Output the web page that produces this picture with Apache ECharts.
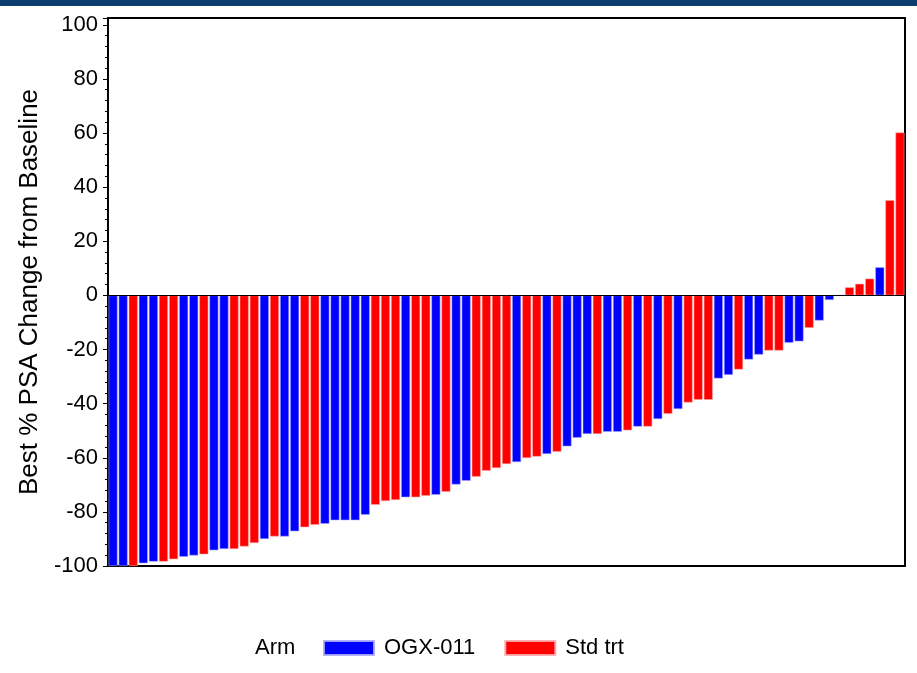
<!DOCTYPE html>
<html>
<head>
<meta charset="utf-8">
<title>Best % PSA Change from Baseline</title>
<script src="https://cdn.jsdelivr.net/npm/echarts@6/dist/echarts.min.js"></script>
<style>
  html, body { margin: 0; padding: 0; background: #fff; }
  #chart { width: 917px; height: 673px; }
</style>
</head>
<body>
<div id="chart"></div>
<script>
// Patients ordered by best PSA change (waterfall)
const patients = Array.from({ length: 79 }, (_, i) => 'P' + (i + 1));

// Treatment arm of each patient: 'O' = OGX-011, 'S' = Std trt
const arms = [
  'O','O','S','O','O','S','S','O','O','S',
  'O','O','S','S','S','O','S','O','O','S',
  'S','O','O','O','O','O','S','S','S','O',
  'S','S','O','S','O','O','S','S','S','S',
  'O','S','S','O','S','O','O','O','S','O',
  'O','S','O','S','O','S','O','S','S','S',
  'O','O','S','O','O','S','S','O','O','S',
  'O','O','O','S','S','S','O','S','S'
];

// Best % PSA change from baseline per patient
const psaChange = [
  -100, -100, -100, -99.0, -98.4, -98.4, -97.5, -96.6, -96.1, -95.7,
  -94.2, -93.7, -93.7, -92.8, -91.5, -90.0, -89.1, -89.1, -87.2, -85.7,
  -84.8, -84.4, -83.1, -83.1, -83.1, -81.1, -77.4, -76.0, -75.6, -74.6,
  -74.6, -74.1, -73.7, -72.6, -69.9, -68.5, -67.0, -64.8, -63.8, -62.3,
  -61.6, -60.1, -59.6, -58.6, -57.8, -55.8, -52.6, -51.2, -51.2, -50.4,
  -50.4, -49.9, -48.5, -48.5, -45.7, -43.8, -42.0, -39.6, -38.6, -38.6,
  -30.7, -29.4, -27.4, -23.7, -21.9, -20.4, -20.4, -17.5, -17.0, -12.0,
  -9.3, -1.7, 0, 3.0, 4.3, 6.2, 10.4, 35.2, 60.2
];

const yTicks = [-100, -80, -60, -40, -20, 0, 20, 40, 60, 80, 100];

const armNames = { O: 'OGX-011', S: 'Std trt' };
const armColors = { O: '#0000ff', S: '#ff0000' };

const FONT = '"Liberation Sans", Arial, sans-serif';

function seriesFor(code) {
  return {
    name: armNames[code],
    type: 'bar',
    stack: 'arm',
    barWidth: 9,
    itemStyle: {
      color: armColors[code],
      borderColor: code === 'O' ? 'rgba(170,170,255,0.9)' : 'rgba(255,170,170,0.9)',
      borderWidth: 0.6
    },
    data: psaChange.map((v, i) => (arms[i] === code ? v : '-'))
  };
}

const series = [seriesFor('O'), seriesFor('S')];
series[0].markLine = {
  silent: true,
  symbol: 'none',
  label: { show: false },
  lineStyle: { color: '#000', width: 1, type: 'solid' },
  data: [{ yAxis: 0 }]
};

const chart = echarts.init(document.getElementById('chart'), null, { renderer: 'canvas' });

chart.setOption({
  animation: false,
  backgroundColor: '#fff',
  textStyle: { fontFamily: FONT },
  graphic: [
    {
      type: 'rect',
      shape: { x: 0, y: 0, width: 917, height: 6 },
      style: { fill: '#0b3e6e' }
    },
    {
      type: 'text',
      left: 255,
      top: 637,
      style: { text: 'Arm', font: '22px ' + FONT, fill: '#000' }
    }
  ],
  grid: {
    left: 108,
    right: 12,
    top: 18,
    bottom: 107,
    show: true,
    borderColor: '#000',
    borderWidth: 2,
    backgroundColor: '#fff'
  },
  legend: {
    left: 323,
    top: 637,
    padding: 0,
    itemWidth: 50,
    itemHeight: 14,
    itemGap: 29,
    icon: 'rect',
    selectedMode: false,
    textStyle: { fontSize: 22, color: '#000', fontFamily: FONT, padding: [0, 0, 0, 5] },
    data: ['OGX-011', 'Std trt']
  },
  xAxis: {
    type: 'category',
    data: patients,
    boundaryGap: true,
    axisLine: { show: true, onZero: false, lineStyle: { color: '#000', width: 2 } },
    axisTick: { show: false },
    axisLabel: { show: false },
    splitLine: { show: false }
  },
  yAxis: {
    type: 'value',
    min: yTicks[0],
    max: 102.5,
    interval: 20,
    name: 'Best % PSA Change from Baseline',
    nameLocation: 'middle',
    nameGap: 65,
    nameTextStyle: { fontSize: 26, color: '#000', fontFamily: FONT },
    axisLine: { show: true, lineStyle: { color: '#000', width: 2 } },
    axisTick: { show: true, length: 5, lineStyle: { color: '#000', width: 1 } },
    minorTick: { show: true, splitNumber: 5, length: 3, lineStyle: { color: '#000', width: 1 } },
    axisLabel: {
      fontSize: 22,
      color: '#000',
      fontFamily: FONT,
      margin: 10,
      showMaxLabel: false,
      formatter: v => (yTicks.includes(v) ? String(v) : '')
    },
    splitLine: { show: false }
  },
  series: series
});
</script>
</body>
</html>
